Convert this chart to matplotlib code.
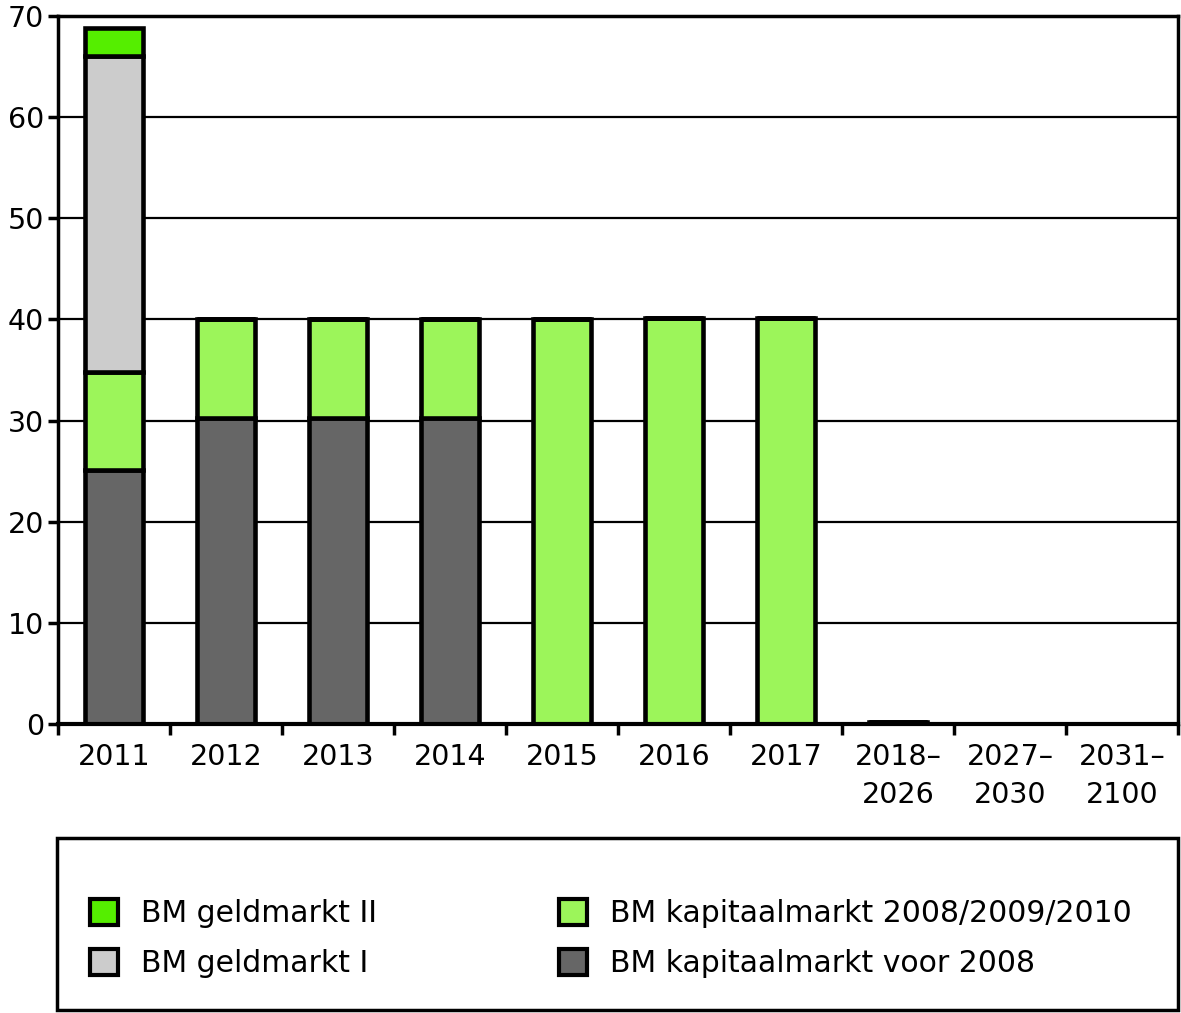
import matplotlib
matplotlib.use("Agg")
import matplotlib.pyplot as plt
import numpy as np
from matplotlib.patches import Patch, Rectangle

plt.rcParams['font.family'] = ['DejaVu Sans']

categories = ["2011", "2012", "2013", "2014", "2015", "2016", "2017",
              "2018–\n2026", "2027–\n2030", "2031–\n2100"]
kap_voor_2008 = [25.1, 30.3, 30.3, 30.3, 0, 0, 0, 0, 0, 0]
kap_2008_2010 = [9.7, 9.7, 9.7, 9.7, 40.0, 40.1, 40.1, 0.2, 0, 0]
geldmarkt_1 = [31.2, 0, 0, 0, 0, 0, 0, 0, 0, 0]
geldmarkt_2 = [2.8, 0, 0, 0, 0, 0, 0, 0, 0, 0]
yticks = [0, 10, 20, 30, 40, 50, 60, 70]

series = [
    ("BM kapitaalmarkt voor 2008", kap_voor_2008, "#666666"),
    ("BM kapitaalmarkt 2008/2009/2010", kap_2008_2010, "#9cf55a"),
    ("BM geldmarkt I", geldmarkt_1, "#cccccc"),
    ("BM geldmarkt II", geldmarkt_2, "#55ee00"),
]

W, H = 1181, 1013
fig = plt.figure(figsize=(W / 100, H / 100), dpi=100)
ax = fig.add_axes([58 / W, 1 - 724 / H, 1120 / W, 708 / H])

x = np.arange(len(categories))
bottom = np.zeros(len(categories))
for name, vals, col in series:
    v = np.array(vals, dtype=float)
    ax.bar(x, v, width=0.52, bottom=bottom, color=col, edgecolor="black",
           linewidth=3.3, zorder=3, label=name)
    bottom += v

ax.set_xlim(-0.5, len(categories) - 0.5)
ax.set_ylim(0, 70)
ax.set_yticks(yticks)
ax.yaxis.grid(True, color="black", linewidth=1.6, zorder=1)
ax.set_axisbelow(True)
for s in ax.spines.values():
    s.set_linewidth(2.5)
    s.set_color("black")
ax.spines["bottom"].set_linewidth(3)
ax.spines["bottom"].set_zorder(4)

FS = 20.5
ax.set_xticks(x)
ax.set_xticklabels(categories, fontsize=FS, linespacing=1.45)
ax.tick_params(axis="x", which="major", length=0, pad=14)
ax.set_xticks(np.arange(-0.5, len(categories), 1.0), minor=True)
ax.tick_params(axis="x", which="minor", length=8, width=2.5, direction="out")
ax.tick_params(axis="y", labelsize=FS, length=7, width=2.5, pad=3)

# legend box
fig.patches.append(Rectangle((57 / W, 1 - 1010 / H), 1121 / W, 172 / H,
                             transform=fig.transFigure, fill=False,
                             edgecolor="black", linewidth=2.5))

def mk(name):
    for n, v, c in series:
        if n == name:
            return Patch(facecolor=c, edgecolor="black", linewidth=3, label=n)

leg_kw = dict(frameon=False, fontsize=21.5, handlelength=0.95, handleheight=0.95,
              handletextpad=0.75, labelspacing=0.69, borderpad=0, borderaxespad=0,
              loc="upper left")
l1 = fig.legend(handles=[mk("BM geldmarkt II"), mk("BM geldmarkt I")],
                bbox_to_anchor=(90 / W, 1 - 899 / H), **leg_kw)
l2 = fig.legend(handles=[mk("BM kapitaalmarkt 2008/2009/2010"),
                         mk("BM kapitaalmarkt voor 2008")],
                bbox_to_anchor=(559 / W, 1 - 899 / H), **leg_kw)

fig.savefig("out.png", dpi=100)
